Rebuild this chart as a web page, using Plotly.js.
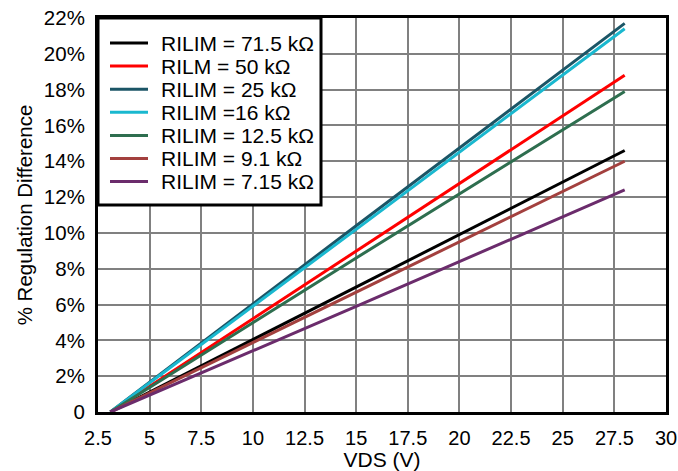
<!DOCTYPE html>
<html><head><meta charset="utf-8">
<script src="https://cdn.plot.ly/plotly-3.0.1.min.js"></script>
<style>body{margin:0;background:#fff}#c{width:678px;height:471px}</style>
</head><body><div id="c"></div>
<script>
const names = ['RILIM = 71.5 k\u03A9','RILM = 50 k\u03A9','RILIM = 25 k\u03A9','RILIM =16 k\u03A9','RILIM = 12.5 k\u03A9','RILIM = 9.1 k\u03A9','RILIM = 7.15 k\u03A9'];
const colors = ['#000000','#ff0000','#1b5566','#1ab8cf','#2e6e4f','#a3403e','#6b2c6c'];
const vds = [3.1, 15, 28];
const r71_5 = [0, 7.0, 14.6];
const r50 = [0, 9.0, 18.8];
const r25 = [0, 10.4, 21.7];
const r16 = [0, 10.2, 21.4];
const r12_5 = [0, 8.6, 17.9];
const r9_1 = [0, 6.7, 14.0];
const r7_15 = [0, 5.9, 12.4];
const series = [r71_5, r50, r25, r16, r12_5, r9_1, r7_15];
const xTicks = [2.5,5,7.5,10,12.5,15,17.5,20,22.5,25,27.5,30];
const xTickText = ['2.5','5','7.5','10','12.5','15','17.5','20','22.5','25','27.5','30'];
const yTicks = [0,2,4,6,8,10,12,14,16,18,20,22];
const yTickText = ['0','2%','4%','6%','8%','10%','12%','14%','16%','18%','20%','22%'];

const W = 678, H = 471, ML = 98, MR = 12, MT = 18, MB = 59;
const PW = W - ML - MR, PH = H - MT - MB;
const px = v => v / PW;           // pixel offset from plot left -> paper x
const py = v => 1 - v / PH;       // pixel offset from plot top -> paper y

const traces = series.map((s,i)=>({x:vds,y:s,name:names[i],mode:'lines',type:'scatter',line:{color:colors[i],width:3},showlegend:false}));
const fam = 'Liberation Sans, Arial, sans-serif';
const font = {family:fam,size:20,color:'#000'};

// custom legend (box, sample lines, labels) built from names/colors
const shapes = [{type:'rect',xref:'paper',yref:'paper',x0:px(0),x1:px(223),y0:py(187),y1:py(0),
  fillcolor:'#fff',line:{color:'#000',width:3},layer:'above'}];
const annotations = [];
names.forEach((n,i)=>{
  const yc = 25 + i*23.1;
  shapes.push({type:'line',xref:'paper',yref:'paper',x0:px(12),x1:px(50),y0:py(yc),y1:py(yc),
    line:{color:colors[i],width:3},layer:'above'});
  annotations.push({xref:'paper',yref:'paper',x:px(61),y:py(yc),xanchor:'left',yanchor:'middle',
    text:n,showarrow:false,font:{family:fam,size:21,color:'#000'}});
});

Plotly.newPlot('c',traces,{
  width:W,height:H,
  margin:{l:ML,r:MR,t:MT,b:MB},
  paper_bgcolor:'#fff',plot_bgcolor:'#fff',
  font:font,
  showlegend:false,
  shapes:shapes,
  annotations:annotations,
  xaxis:{range:[2.5,30],tickvals:xTicks,ticktext:xTickText,showgrid:true,gridcolor:'#808080',gridwidth:1.5,
    showline:true,linecolor:'#000',linewidth:3,mirror:true,zeroline:false,ticks:'',ticklabelstandoff:6,
    title:{text:'VDS (V)',font:{family:fam,size:21,color:'#000'},standoff:2}},
  yaxis:{range:[0,22],tickvals:yTicks,ticktext:yTickText,showgrid:true,gridcolor:'#808080',gridwidth:1.5,
    showline:true,linecolor:'#000',linewidth:3,mirror:true,zeroline:false,ticks:'',ticklabelstandoff:6,
    tickfont:{family:fam,size:20.5,color:'#000'},
    title:{text:'% Regulation Difference',font:{family:fam,size:20.5,color:'#000'},standoff:6}}
},{displayModeBar:false});
</script></body></html>
